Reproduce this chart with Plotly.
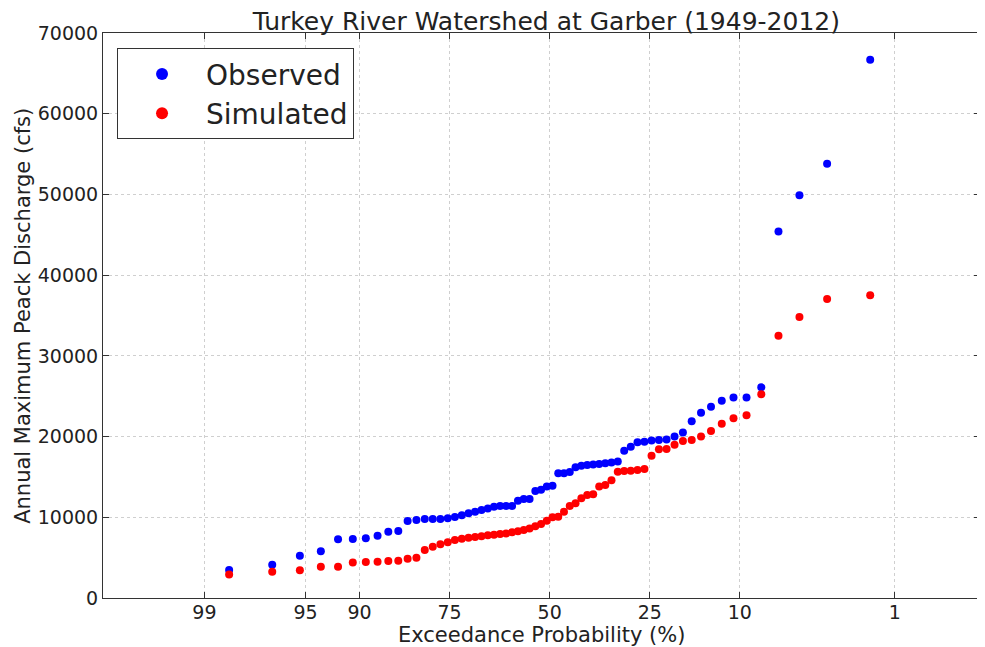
"""
Annual maximum peak discharge frequency plot - Turkey River at Garber.
Observed vs simulated peaks on a normal probability axis.
"""

from statistics import NormalDist

import plotly.graph_objects as go

# Annual peaks (cfs), sorted largest -> smallest, 1949-2012 (64 years)
observed = [
    66700, 53800, 49900, 45400, 26100, 24850, 24850, 24450, 23700, 22950,
    21900, 20500, 20000, 19650, 19580, 19500, 19370, 19300, 18750, 18250,
    16900, 16800, 16700, 16600, 16550, 16480, 16400, 16200, 15600, 15450,
    15450, 13900, 13800, 13400, 13250, 12270, 12270, 12060, 11400, 11400,
    11400, 11300, 11100, 10900, 10700, 10500, 10250, 10050, 9870, 9790,
    9790, 9790, 9670, 9540, 8300, 8200, 7720, 7400, 7300, 7270,
    5790, 5220, 4110, 3470,
]
simulated = [
    37500, 37050, 34800, 32500, 25250, 22650, 22270, 21600, 20700, 20000,
    19580, 19450, 19000, 18460, 18420, 17630, 15980, 15860, 15780, 15740,
    15650, 14600, 14000, 13800, 12850, 12760, 12350, 11730, 11400, 10700,
    10070, 10000, 9580, 9170, 8880, 8600, 8430, 8260, 8140, 8000,
    7930, 7850, 7770, 7640, 7560, 7470, 7350, 7200, 6900, 6650,
    6360, 5950, 5000, 4870, 4600, 4580, 4500, 4450, 4400, 3880,
    3880, 3430, 3260, 2900,
]

tick_labels = ["99", "95", "90", "75", "50", "25", "10", "1"]

nd = NormalDist()


def prob_to_z(p_exceed):
    # exceedance probability (fraction) -> standard normal position
    return nd.inv_cdf(1.0 - p_exceed)


n = len(observed)
# Weibull plotting positions m/(n+1)
x_pos = [prob_to_z(m / (n + 1)) for m in range(1, n + 1)]
tick_vals = [prob_to_z(float(t) / 100.0) for t in tick_labels]

FONT = "DejaVu Sans"
TXT = "#222222"

fig = go.Figure()
fig.add_trace(go.Scatter(
    x=x_pos, y=observed, mode="markers", name="Observed",
    marker=dict(color="#0000ff", size=8, line=dict(width=0)),
))
fig.add_trace(go.Scatter(
    x=x_pos, y=simulated, mode="markers", name="Simulated",
    marker=dict(color="#ff0000", size=8, line=dict(width=0)),
))

axis_common = dict(
    showline=True, linecolor="#333333", linewidth=1, mirror="ticks",
    ticks="inside", ticklen=6, tickcolor="#333333",
    showgrid=True, gridcolor="#cfcfcf", griddash="dot", gridwidth=1,
    zeroline=False, automargin=False,
    tickfont=dict(size=19, color=TXT, family=FONT),
)

fig.update_xaxes(
    range=[-3.01, 2.9], tickmode="array", tickvals=tick_vals, ticktext=tick_labels,
    ticklabelstandoff=-3,
    **axis_common,
)
fig.update_yaxes(
    range=[0, 70000], tickmode="array", tickvals=list(range(0, 70001, 10000)),
    tickformat="d",
    **axis_common,
)

# axis titles as annotations so they sit where the original puts them
fig.add_annotation(
    text="Exceedance Probability (%)", xref="paper", yref="paper",
    x=0.5, y=-0.065, xanchor="center", yanchor="middle", showarrow=False,
    font=dict(size=21, color=TXT, family=FONT),
)
fig.add_annotation(
    text="Annual Maximum Peack Discharge (cfs)", xref="paper", yref="paper",
    x=-0.092, y=0.5, xanchor="center", yanchor="middle", showarrow=False,
    textangle=-90, font=dict(size=21, color=TXT, family=FONT),
)

# page body has an 8px margin, so the figure is a bit smaller than the window
fig.update_layout(
    width=977, height=639,
    margin=dict(l=95, r=5, t=25, b=49),
    paper_bgcolor="white", plot_bgcolor="white",
    font=dict(family=FONT, color=TXT),
    title=dict(text="Turkey River Watershed at Garber (1949-2012)",
               x=0.551, xanchor="center", y=0.979, yanchor="middle",
               font=dict(size=25, color=TXT)),
    legend=dict(
        x=0.016, y=0.973, xanchor="left", yanchor="top",
        bgcolor="white", bordercolor="#333333", borderwidth=1,
        font=dict(size=28, color=TXT), itemsizing="constant", itemwidth=78,
    ),
    showlegend=True,
)

fig.write_html("out.html")
